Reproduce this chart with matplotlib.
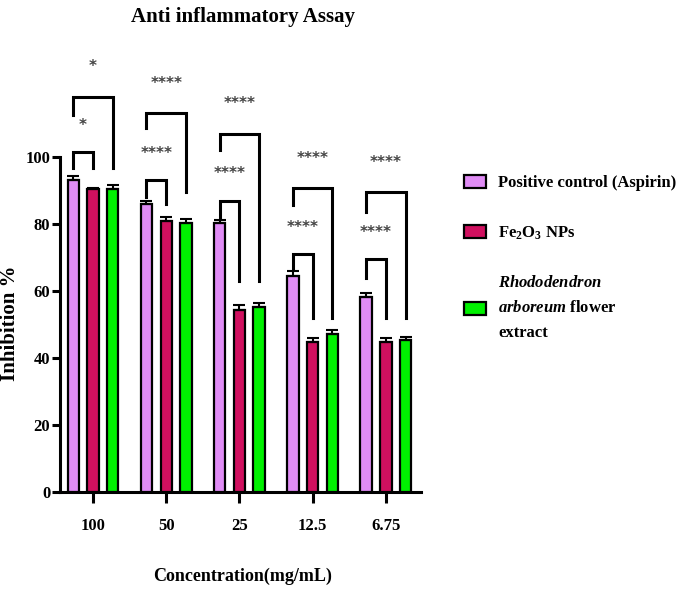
import matplotlib
matplotlib.use("Agg")
import matplotlib.pyplot as plt
import numpy as np
from matplotlib.patches import Patch

plt.rcParams['font.family'] = 'Liberation Serif'
plt.rcParams['font.weight'] = 'bold'
plt.rcParams['axes.labelweight'] = 'bold'
plt.rcParams['mathtext.fontset'] = 'custom'
plt.rcParams['mathtext.rm'] = 'Liberation Serif:bold'
plt.rcParams['mathtext.it'] = 'Liberation Serif:italic:bold'
plt.rcParams['mathtext.bf'] = 'Liberation Serif:bold'

# data
concentrations = ["100", "50", "25", "12.5", "6.75"]
aspirin = [93.0, 86.0, 80.3, 64.5, 58.2]
aspirin_err = [1.3, 1.0, 1.0, 1.6, 1.2]
fe2o3 = [90.3, 81.0, 54.3, 44.8, 44.8]
fe2o3_err = [0.3, 1.2, 1.4, 1.3, 1.3]
extract = [90.5, 80.3, 55.2, 47.3, 45.3]
extract_err = [1.0, 1.2, 1.3, 1.1, 1.1]

series_labels = ["Positive control (Aspirin)", "Fe$_2$O$_3$ NPs",
                 "$\\mathit{Rhododendron}$\n$\\mathit{arboreum}$ flower\nextract"]
colors = ["#E08CF5", "#D0105F", "#00F000"]

# significance brackets: (left leg end, top, right leg end, label) per group
short_br = [(96.7, 101.5, 96.7, "*"), (88, 93, 86, "****"), (82, 87, 63, "****"),
            (67, 71, 52, "****"), (64, 69.5, 52, "****")]
long_br = [(112.5, 118, 96.7, "*"), (108.6, 113, 89.5, "****"), (102, 107, 63, "****"),
           (85.7, 90.7, 52, "****"), (83.6, 89.5, 52, "****")]

fig = plt.figure(figsize=(6.88, 5.93), dpi=100)
ax = fig.add_axes([60/688, 101/593, 361/688, 435.5/593])

x = np.arange(len(concentrations))
off = 0.27
w = 0.155
allvals = [aspirin, fe2o3, extract]
allerr = [aspirin_err, fe2o3_err, extract_err]
for i in range(3):
    ax.bar(x + (i - 1) * off, allvals[i], w, color=colors[i], edgecolor='black',
           linewidth=1.6,
           yerr=[np.zeros(len(x)), allerr[i]], capsize=4,
           error_kw=dict(elinewidth=1.5, capthick=1.5, ecolor='black'), zorder=3)

for j in range(len(x)):
    xa = x[j] - off
    xb = x[j]
    xc = x[j] + off
    l1, t1, r1, s1 = short_br[j]
    ax.plot([xa, xa, xb, xb], [l1, t1, t1, r1], color='black', lw=2.2,
            clip_on=False, solid_joinstyle='miter')
    ax.text((xa + xb) / 2, t1 + 8, s1, ha='center', va='center',
            fontsize=11, color='#444444', family='DejaVu Sans')
    l2, t2, r2, s2 = long_br[j]
    ax.plot([xa, xa, xc, xc], [l2, t2, t2, r2], color='black', lw=2.2,
            clip_on=False, solid_joinstyle='miter')
    ax.text((xa + xc) / 2, t2 + 9, s2, ha='center', va='center',
            fontsize=11, color='#444444', family='DejaVu Sans')

ax.set_xlim(-0.45, 4.48)
ax.set_ylim(0, 130)
ax.set_yticks(np.arange(0, 101, 20))
ax.set_xticks(x)
ax.set_xticklabels(concentrations)
ax.spines['left'].set_bounds(0, 100)
ax.spines['top'].set_visible(False)
ax.spines['right'].set_visible(False)
ax.spines['left'].set_linewidth(2.2)
ax.spines['bottom'].set_linewidth(2.2)
ax.tick_params(axis='y', length=6, width=2.2, labelsize=12, pad=1)
ax.tick_params(axis='x', length=8, width=2.2, labelsize=12, pad=11)

ax.set_xlabel("Concentration(mg/mL)", fontsize=13)
ax.xaxis.set_label_coords((243 - 60) / 361, -(568 - 492) / 435.5)
ax.set_ylabel("Inhibition %", fontsize=15)
ax.yaxis.set_label_coords(-(60 - 20) / 361, (492 - 323) / 435.5)

fig.text(243 / 688, 1 - 17 / 593, "Anti inflammatory Assay", ha='center',
         va='center', fontsize=15)

handles = [Patch(facecolor=colors[i], edgecolor='black', linewidth=1.6) for i in range(3)]
leg = fig.legend(handles, series_labels, loc='upper left',
                 bbox_to_anchor=(464 / 688, 1 - 175 / 593), frameon=False,
                 fontsize=12, handlelength=1.3, handleheight=0.8,
                 handletextpad=0.75, labelspacing=2.0, borderpad=0,
                 borderaxespad=0)
for t in leg.get_texts():
    t.set_linespacing(1.75)

fig.savefig("out.png", dpi=100)
